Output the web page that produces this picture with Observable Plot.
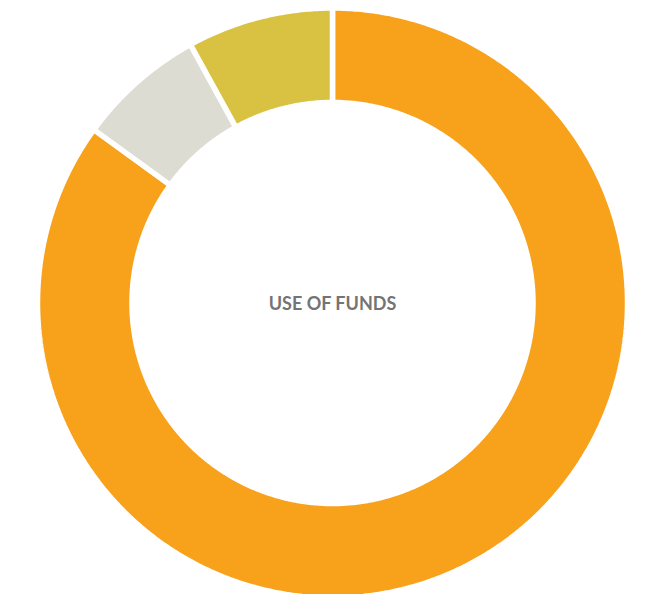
<!DOCTYPE html>
<html>
<head>
<meta charset="utf-8">
<script src="https://cdn.jsdelivr.net/npm/d3@7"></script>
<script src="https://cdn.jsdelivr.net/npm/@observablehq/plot@0.6"></script>
<style>
  html, body { margin: 0; padding: 0; background: #fff; }
  #chart { width: 649px; height: 594px; overflow: hidden; }
</style>
</head>
<body>
<div id="chart"></div>
<script>
// Data, clockwise from 12 o'clock
const categories = ["Category A", "Category B", "Category C"];
const values = [85, 7, 8];
const colors = ["#F8A11B", "#DCDCD2", "#D9C141"];
const centerLabel = "USE OF FUNDS";

// Layout
const W = 649, H = 594;
const cx = 332, cy = 302.5;
const R = 295;            // outer radius in px (before white stroke)
const innerFrac = 200.5 / 295;

// Build slice polygons in unit-radius coordinates
const total = d3.sum(values);
const slices = [];
let acc = 0;
values.forEach((v, i) => {
  const a0 = acc / total * 2 * Math.PI;
  acc += v;
  const a1 = acc / total * 2 * Math.PI;
  const n = Math.max(8, Math.ceil((a1 - a0) / (Math.PI / 360)));
  const pts = [];
  for (let k = 0; k <= n; k++) {
    const a = a0 + (a1 - a0) * k / n;
    pts.push({cat: categories[i], x: Math.sin(a), y: -Math.cos(a)});
  }
  for (let k = n; k >= 0; k--) {
    const a = a0 + (a1 - a0) * k / n;
    pts.push({cat: categories[i], x: innerFrac * Math.sin(a), y: -innerFrac * Math.cos(a)});
  }
  slices.push(...pts);
});

const chart = Plot.plot({
  width: W,
  height: H,
  margin: 0,
  style: {background: "#fff", overflow: "visible"},
  x: {domain: [-cx / R, (W - cx) / R], range: [0, W], axis: null},
  y: {domain: [-cy / R, (H - cy) / R], range: [0, H], axis: null},
  color: {domain: categories, range: colors},
  marks: [
    Plot.line(slices, {
      x: "x", y: "y", z: "cat",
      fill: "cat",
      stroke: "#fff",
      strokeWidth: 5.5,
      strokeLinejoin: "miter",
      curve: "linear-closed"
    }),
    Plot.text([centerLabel], {
      x: () => 0, y: () => 0,
      text: d => d,
      fill: "#747474",
      fontSize: 18,
      fontWeight: "bold",
      fontFamily: "Lato, 'Open Sans', sans-serif",
      textAnchor: "middle",
      dy: 1
    })
  ]
});
document.getElementById("chart").appendChild(chart);
</script>
</body>
</html>
